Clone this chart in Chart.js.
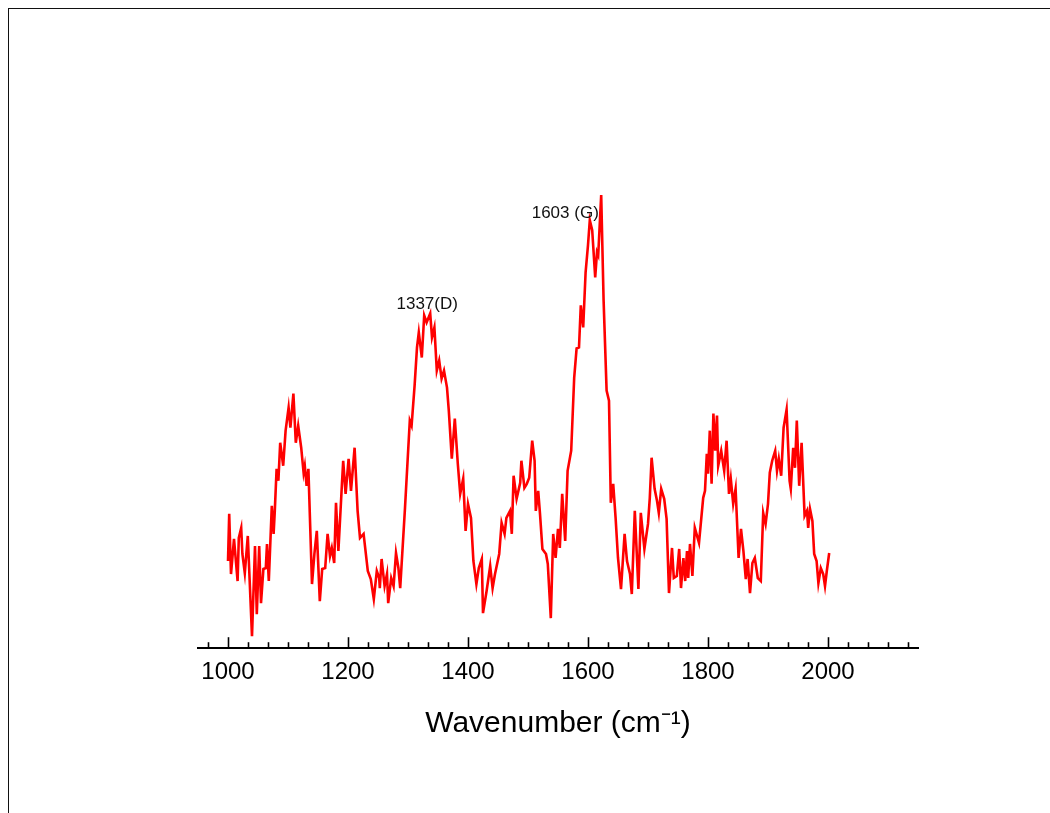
<!DOCTYPE html>
<html>
<head>
<meta charset="utf-8">
<title>Raman spectrum</title>
<script src="https://cdn.jsdelivr.net/npm/chart.js@4.4.1/dist/chart.umd.min.js"></script>
<style>
  html, body { margin: 0; padding: 0; background: #fff; }
  #wrap { position: relative; width: 1050px; height: 813px; overflow: hidden; }
  #frame {
    position: absolute; left: 8px; top: 8px; right: 0; bottom: 0;
    border-top: 1px solid #111; border-left: 1px solid #111;
  }
  #spectrum { position: absolute; left: 0; top: 0; }
</style>
</head>
<body>
<div id="wrap">
  <div id="frame"></div>
  <canvas id="spectrum" width="1050" height="813"></canvas>
</div>
<script>
// Raman shift (cm-1) and intensity (a.u.)
const wavenumber = [
  1000, 1002, 1005, 1010, 1016, 1018, 1022, 1024, 1028, 1033, 1040, 1045, 1048, 1052, 1055, 1059,
  1063, 1065, 1068, 1073, 1076, 1078, 1081, 1084, 1087, 1092, 1096, 1101, 1104, 1109, 1113, 1117,
  1122, 1126, 1128, 1131, 1134, 1140, 1144, 1148, 1153, 1157, 1162, 1166, 1170, 1173, 1177, 1180,
  1184, 1190, 1192, 1196, 1201, 1205, 1211, 1216, 1220, 1226, 1233, 1238, 1243, 1248, 1252, 1253,
  1256, 1261, 1265, 1267, 1272, 1276, 1280, 1284, 1287, 1295, 1303, 1306, 1311, 1315, 1318, 1323,
  1327, 1331, 1337, 1340, 1344, 1348, 1352, 1356, 1360, 1365, 1368, 1373, 1378, 1383, 1387, 1392,
  1396, 1400, 1405, 1409, 1414, 1418, 1423, 1425, 1431, 1437, 1441, 1445, 1452, 1456, 1461, 1464,
  1470, 1473, 1476, 1481, 1487, 1489, 1494, 1498, 1502, 1507, 1511, 1513, 1517, 1520, 1524, 1530,
  1533, 1538, 1542, 1546, 1550, 1553, 1557, 1562, 1566, 1572, 1577, 1581, 1585, 1588, 1592, 1596,
  1600, 1603, 1607, 1612, 1615, 1617, 1622, 1626, 1631, 1635, 1638, 1642, 1646, 1650, 1655, 1661,
  1665, 1670, 1673, 1678, 1684, 1688, 1694, 1700, 1703, 1706, 1711, 1715, 1718, 1722, 1727, 1731,
  1735, 1740, 1743, 1748, 1752, 1755, 1759, 1762, 1765, 1767, 1770, 1774, 1778, 1785, 1792, 1795,
  1798, 1800, 1803, 1806, 1809, 1812, 1815, 1817, 1822, 1827, 1831, 1835, 1838, 1842, 1846, 1851,
  1855, 1859, 1863, 1866, 1870, 1874, 1878, 1883, 1888, 1892, 1896, 1900, 1903, 1907, 1912, 1915,
  1918, 1922, 1926, 1931, 1936, 1938, 1942, 1945, 1948, 1952, 1956, 1961, 1965, 1967, 1970, 1974,
  1977, 1981, 1984, 1988, 1992, 1995, 1998, 2002
];
const intensity = [
    87, 134,  74, 109,  67, 110, 120,  94,  75, 112,  12, 102,  34, 102,  45,  79,
    80, 104,  67, 142, 114, 137, 179, 167, 205, 182, 217, 240, 220, 254, 205, 222,
   200, 175, 182, 162, 179,  64,  94, 117,  47,  79,  80, 114,  92, 100,  85, 145,
    97, 165, 187, 154, 189, 157, 200, 137, 110, 114,  77,  69,  49,  77,  70,  60,
    89,  62,  74,  45,  70,  62,  95,  80,  60, 140, 227, 222, 262, 300, 315, 290,
   332, 325, 334, 310, 320, 277, 287, 269, 277, 260, 237, 189, 229, 184, 154, 169,
   117, 144, 130,  87,  64,  80,  89,  35,  57,  82,  60,  74,  94, 125, 114, 130,
   137, 114, 172, 149, 165, 187, 160, 164, 170, 207, 187, 137, 157, 134,  99,  94,
    84,  30, 114,  90, 119, 100, 154, 107, 177, 197, 270, 299, 300, 342, 320, 375,
   402, 427, 417, 370, 395, 392, 452, 347, 257, 247, 145, 164, 130,  90,  59, 114,
    87,  74,  54, 137,  59, 135,  99, 124, 150, 190, 159, 147, 135, 159, 149, 129,
    55, 100,  70,  72,  99,  60,  90,  67,  97,  70, 104,  72, 120, 105, 150, 157,
   194, 174, 217, 164, 234, 197, 232, 182, 197, 177, 207, 154, 169, 144, 159,  90,
   119,  97,  69,  89,  55,  85,  90,  70,  67, 135, 124, 144, 175, 187, 197, 177,
   189, 172, 220, 238, 167, 159, 200, 180, 227, 162, 205, 132, 137, 120, 139, 127,
    94,  87,  65,  80,  74,  62,  77,  95
];

// labelled axis values and peak assignments
const tickLabels = [1000, 1200, 1400, 1600, 1800, 2000];
const peakLabels = ['1337(D)', '1603 (G)'];
const peakPositions = [1337, 1603];
const peakHeights = [334, 427];

const xMin = 950, xMax = 2150;
const minorStep = 200 / 6;

// tick marks point up from the axis line, long at the labelled values
const tickMarks = {
  id: 'tickMarks',
  afterDraw(chart) {
    const x = chart.scales.x;
    const ctx = chart.ctx;
    const base = chart.chartArea.bottom;
    ctx.save();
    ctx.strokeStyle = '#000';
    ctx.lineWidth = 1.6;
    for (let v = 1000 - minorStep; v <= xMax; v += minorStep) {
      const major = Math.abs((v - 1000) / 200 - Math.round((v - 1000) / 200)) < 1e-6;
      const px = Math.round(x.getPixelForValue(v)) + 0.5;
      ctx.beginPath();
      ctx.moveTo(px, base);
      ctx.lineTo(px, base - (major ? 11 : 6));
      ctx.stroke();
    }
    ctx.restore();
  }
};

// D and G band labels next to their peaks
const peakText = {
  id: 'peakText',
  afterDatasetsDraw(chart) {
    const {x, y} = chart.scales;
    const ctx = chart.ctx;
    ctx.save();
    ctx.fillStyle = '#111';
    ctx.font = '17px "Liberation Sans", Arial, sans-serif';
    ctx.textBaseline = 'alphabetic';
    ctx.textAlign = 'center';
    ctx.fillText(peakLabels[0], x.getPixelForValue(peakPositions[0]) - 3, y.getPixelForValue(peakHeights[0]) - 4);
    ctx.textAlign = 'right';
    ctx.fillText(peakLabels[1], x.getPixelForValue(peakPositions[1]) + 9, y.getPixelForValue(peakHeights[1]) - 2);
    ctx.restore();
  }
};

const points = wavenumber.map((w, i) => ({ x: w, y: intensity[i] }));

new Chart(document.getElementById('spectrum'), {
  type: 'line',
  data: {
    datasets: [{
      data: points,
      borderColor: '#ff0000',
      borderWidth: 2.6,
      pointRadius: 0,
      tension: 0,
      fill: false
    }]
  },
  options: {
    responsive: false,
    animation: false,
    devicePixelRatio: 1,
    layout: { padding: { left: 198, right: 132, top: 147, bottom: 71 } },
    plugins: { legend: { display: false }, tooltip: { enabled: false } },
    scales: {
      x: {
        type: 'linear',
        min: xMin,
        max: xMax,
        grid: { display: false, drawTicks: false },
        border: { display: true, color: '#000', width: 2 },
        afterBuildTicks(scale) {
          scale.ticks = tickLabels.map(v => ({ value: v }));
        },
        ticks: {
          color: '#000',
          padding: 10,
          maxRotation: 0,
          autoSkip: false,
          font: { family: '"Liberation Sans", Arial, sans-serif', size: 24 },
          callback: v => String(v)
        },
        title: {
          display: true,
          text: 'Wavenumber (cm⁻¹)',
          color: '#000',
          padding: { top: 9, bottom: 0 },
          font: { family: '"Liberation Sans", Arial, sans-serif', size: 30 }
        }
      },
      y: {
        display: false,
        min: 0,
        max: 500
      }
    }
  },
  plugins: [tickMarks, peakText]
});
</script>
</body>
</html>
